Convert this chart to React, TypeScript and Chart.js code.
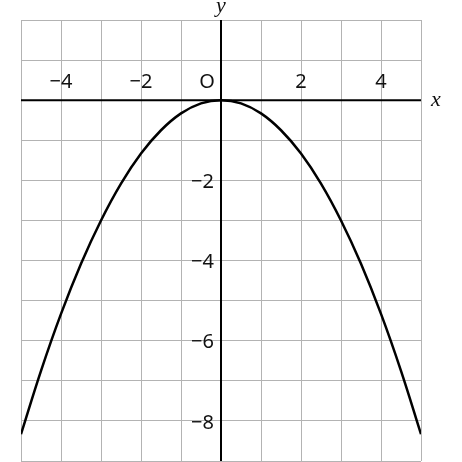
import { useEffect, useRef } from "react";
import { Chart, registerables } from "chart.js";

Chart.register(...registerables);

// points
const xValues = [-5, -4.5, -4, -3.5, -3, -2.5, -2, -1.5, -1, -0.5, 0, 0.5, 1, 1.5, 2, 2.5, 3, 3.5, 4, 4.5, 5];
const yValues = [-8.33, -6.75, -5.33, -4.08, -3, -2.08, -1.33, -0.75, -0.33, -0.08, 0, -0.08, -0.33, -0.75, -1.33, -2.08, -3, -4.08, -5.33, -6.75, -8.33];

const xTickLabels = [-4, -2, 2, 4];
const yTickLabels = [-2, -4, -6, -8];

const tickFont = "20px 'Noto Sans'";
const axisFont = "italic 22px 'Liberation Serif'";

const minus = (v: number) => (v < 0 ? "\u2212" + Math.abs(v) : String(v));

const axesPlugin = {
  id: "axesPlugin",
  beforeDatasetsDraw(chart: any) {
    const { ctx, chartArea, scales } = chart;
    const x0 = scales.x.getPixelForValue(0);
    const y0 = scales.y.getPixelForValue(0);
    ctx.save();
    ctx.strokeStyle = "#000";
    ctx.lineWidth = 2;
    ctx.beginPath();
    ctx.moveTo(chartArea.left, y0);
    ctx.lineTo(chartArea.right, y0);
    ctx.moveTo(x0, chartArea.top);
    ctx.lineTo(x0, chartArea.bottom);
    ctx.stroke();

    ctx.fillStyle = "#111";
    ctx.font = tickFont;
    ctx.textAlign = "center";
    ctx.textBaseline = "middle";
    xTickLabels.forEach((v) => {
      ctx.fillText(minus(v), scales.x.getPixelForValue(v), y0 - 18);
    });
    ctx.fillText("O", x0 - 14, y0 - 18);
    ctx.textAlign = "right";
    yTickLabels.forEach((v) => {
      ctx.fillText(minus(v), x0 - 7, scales.y.getPixelForValue(v) + 2);
    });

    ctx.font = axisFont;
    ctx.textAlign = "center";
    ctx.fillText("x", chartArea.right + 15, y0);
    ctx.fillText("y", x0, chartArea.top - 14);
    ctx.restore();
  },
};

export default function App() {
  const canvasRef = useRef<HTMLCanvasElement>(null);
  const chartRef = useRef<Chart | null>(null);

  useEffect(() => {
    if (!canvasRef.current) return;
    const ctx = canvasRef.current.getContext("2d");
    if (!ctx) return;

    chartRef.current = new Chart(ctx, {
      type: "scatter",
      data: {
        datasets: [
          {
            data: xValues.map((x, i) => ({ x, y: yValues[i] })),
            showLine: true,
            borderColor: "#000",
            borderWidth: 2.5,
            pointRadius: 0,
            tension: 0.4,
            fill: false,
          },
        ],
      },
      options: {
        animation: false,
        responsive: true,
        maintainAspectRatio: false,
        layout: { padding: { left: 21, right: 41, top: 20, bottom: 1 } },
        plugins: { legend: { display: false }, tooltip: { enabled: false } },
        scales: {
          x: {
            type: "linear",
            min: -5,
            max: 5,
            ticks: { display: false, stepSize: 1 },
            grid: { color: "#b3b3b3", lineWidth: 1, drawTicks: false },
            border: { display: false },
          },
          y: {
            type: "linear",
            min: -9,
            max: 2,
            ticks: { display: false, stepSize: 1 },
            grid: { color: "#b3b3b3", lineWidth: 1, drawTicks: false },
            border: { display: false },
          },
        },
      },
      plugins: [axesPlugin],
    });

    return () => {
      chartRef.current?.destroy();
    };
  }, []);

  return (
    <div style={{ position: "absolute", left: 0, top: 0, width: 462, height: 462, background: "#fff" }}>
      <canvas ref={canvasRef} />
    </div>
  );
}
